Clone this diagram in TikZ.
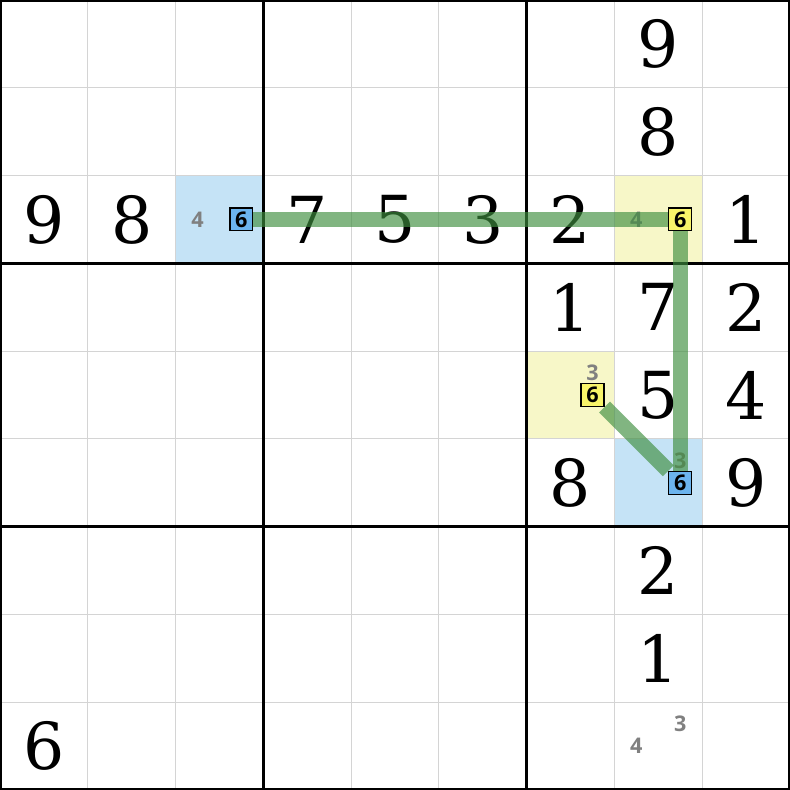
\documentclass[tikz,border=0pt]{standalone}
\usepackage{fontspec}
\newfontfamily\pencilfont{Open Sans}
\newfontfamily\givenfont{DejaVu Serif}
\definecolor{cellblue}{HTML}{C5E3F6}
\definecolor{cellyellow}{HTML}{F7F7C8}
\definecolor{boxblue}{HTML}{6CB4EE}
\definecolor{boxyellow}{HTML}{F8F46A}
\definecolor{chaingreen}{HTML}{3E8E3E}
\definecolor{gridgray}{HTML}{D4D4D4}
\pgfdeclarelayer{front}
\pgfsetlayers{main,front}
\begin{document}
\begin{tikzpicture}[given/.style={font=\fontsize{21}{25}\givenfont},
            pencil/.style={font=\fontsize{7}{8}\pencilfont\bfseries,text=gray,inner sep=0pt},
            candbox/.style={draw=black,line width=0.4pt,minimum size=0.26cm,inner sep=0pt,
                            font=\fontsize{7}{8}\pencilfont\bfseries},
            chainline/.style={chaingreen,opacity=0.65,line width=5pt}]
             \useasboundingbox (0,0) rectangle (9,9);
             % coloured cells
             \fill[cellblue]   (2,6) rectangle (3,7);
             \fill[cellyellow] (7,6) rectangle (8,7);
             \fill[cellyellow] (6,4) rectangle (7,5);
             \fill[cellblue]   (7,3) rectangle (8,4);
             \foreach \i in {1,...,8} \draw[gridgray,line width=0.3pt] (\i,0) -- (\i,9) (0,\i) -- (9,\i);
             \foreach \i in {0,3,6,9} \draw[line width=1pt] (\i,0) -- (\i,9) (0,\i) -- (9,\i);
             % givens: column/row/digit
             \foreach \c/\r/\d in {8/1/9,8/2/8,1/3/9,2/3/8,4/3/7,5/3/5,6/3/3,7/3/2,9/3/1,
                                   7/4/1,8/4/7,9/4/2,8/5/5,9/5/4,7/6/8,9/6/9,8/7/2,8/8/1,1/9/6}
                 \node[given] (g\r\c) at (\c-0.5,9.5-\r) {\d};
             % candidates
             \foreach \c/\r/\d/\px/\py in {3/3/4/0.25/0.5,8/3/4/0.25/0.5,7/5/3/0.75/0.25,
                                           8/6/3/0.75/0.25,8/9/3/0.75/0.25,8/9/4/0.25/0.5}
                 \node[pencil] (p\r\c\d) at (\c-1+\px,10-\r-\py) {\d};
             \begin{pgfonlayer}{front}
             \node[candbox,fill=boxblue]   (c33) at (2.75,6.5) {6};
             \node[candbox,fill=boxyellow] (c38) at (7.75,6.5) {6};
             \node[candbox,fill=boxyellow] (c57) at (6.75,4.5) {6};
             \node[candbox,fill=boxblue]   (c68) at (7.75,3.5) {6};
             \end{pgfonlayer}
             \draw[chainline] (c33) -- (c38) -- (c68);
             \draw[chainline] (c57) -- (c68);
        \end{tikzpicture}
\end{document}
